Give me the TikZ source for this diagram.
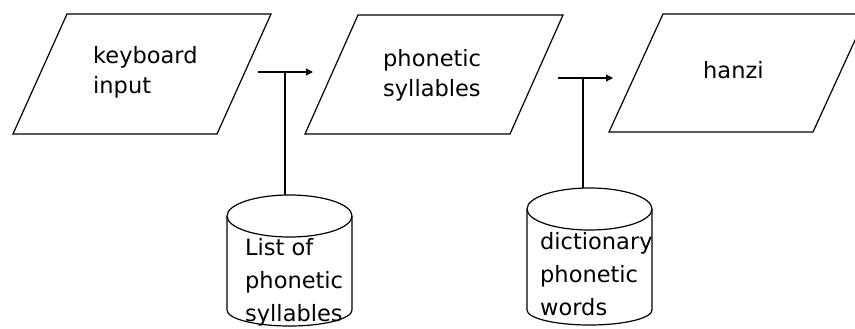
\documentclass[tikz,border=0pt]{standalone}
\usepackage{fontspec}
\setmainfont{DejaVu Sans}
\usetikzlibrary{arrows.meta}
\begin{document}
\begin{tikzpicture}[x=1pt,y=-1pt,
  shape line/.style={draw=black,line width=1.2pt,line join=miter},
  conn/.style={draw=black,line width=1.2pt},
  flowarrow/.style={conn,-{Triangle[length=7pt,width=7pt]}},
  lbl/.style={inner sep=0pt,anchor=base west,align=left,font=\fontsize{22.5}{30}\selectfont},
  dblbl/.style={lbl,font=\fontsize{22.5}{33}\selectfont}]
\useasboundingbox (0,0) rectangle (855,329);
% parallelograms
\coordinate (p1a) at (67,14); \coordinate (p1b) at (271,14);
\coordinate (p1c) at (217,134); \coordinate (p1d) at (13,134);
\draw[shape line] (p1a) -- (p1b) -- (p1c) -- (p1d) -- cycle;
\coordinate (p2a) at (358,15); \coordinate (p2b) at (563,15);
\coordinate (p2c) at (510,134); \coordinate (p2d) at (305,134);
\draw[shape line] (p2a) -- (p2b) -- (p2c) -- (p2d) -- cycle;
\coordinate (p3a) at (663,14); \coordinate (p3b) at (867,14);
\coordinate (p3c) at (813,132); \coordinate (p3d) at (609,132);
\draw[shape line] (p3a) -- (p3b) -- (p3c) -- (p3d) -- cycle;
% cylinders
\draw[shape line] (227,216) -- (227,310) arc[start angle=180,end angle=0,x radius=62.5,y radius=16] -- (352,216);
\draw[shape line] (289.5,216) ellipse[x radius=62.5,y radius=21];
\draw[shape line] (527,209) -- (527,310) arc[start angle=180,end angle=0,x radius=62.5,y radius=15] -- (652,209);
\draw[shape line] (589.5,209) ellipse[x radius=62.5,y radius=21];
% texts
\node[lbl] (kb) at (93,94) {keyboard\\input};
\node[lbl] (ps) at (383,96) {phonetic\\syllables};
\node[lbl] (hz) at (703,79) {hanzi};
\node[dblbl] (db1) at (245,321) {List of\\phonetic\\syllables};
\node[dblbl] (db2) at (540,315) {dictionary\\phonetic\\words};
% connectors
\coordinate (a1s) at (258,72); \coordinate (a1e) at (313,72);
\coordinate (t1) at (285,72); \coordinate (c1) at (285,195);
\draw[flowarrow] (a1s) -- (a1e);
\draw[conn] (t1) -- (c1);
\coordinate (a2s) at (558,78); \coordinate (a2e) at (613,78);
\coordinate (t2) at (583,78); \coordinate (c2) at (583,188);
\draw[flowarrow] (a2s) -- (a2e);
\draw[conn] (t2) -- (c2);
\end{tikzpicture}
\end{document}
